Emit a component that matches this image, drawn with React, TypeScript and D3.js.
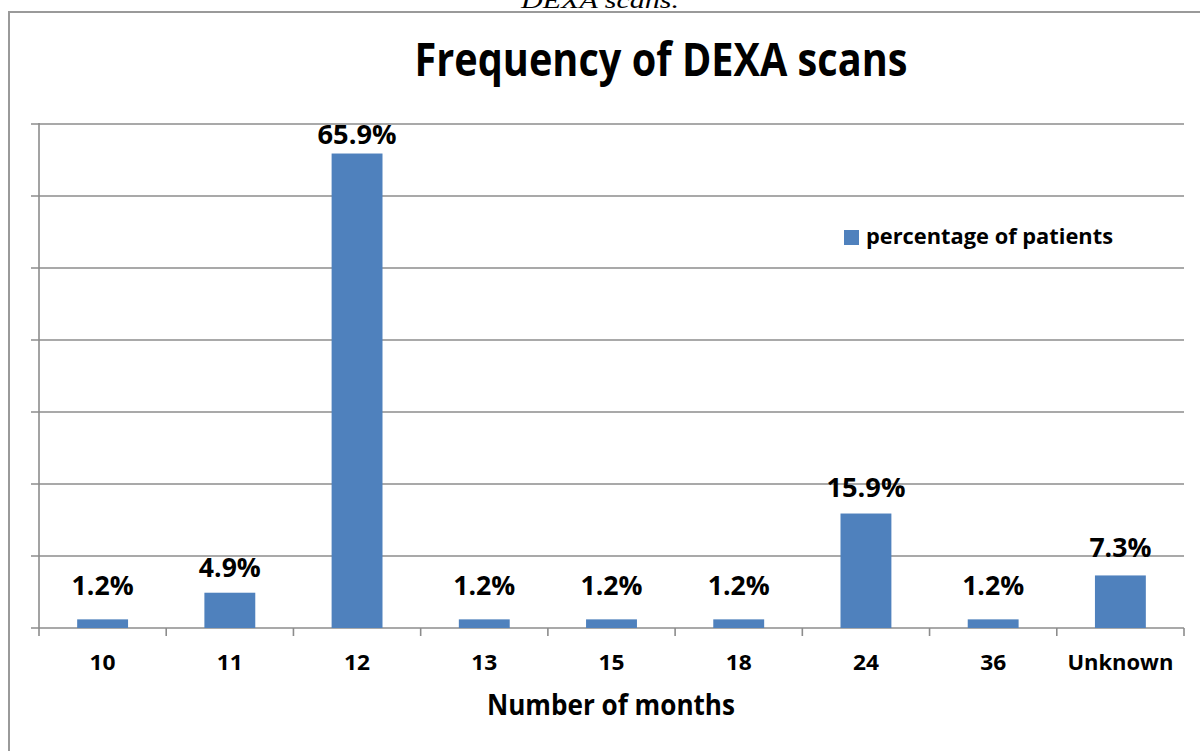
import React from "react";
import * as d3 from "d3";

const categories = ["10", "11", "12", "13", "15", "18", "24", "36", "Unknown"];
const percentages = [1.2, 4.9, 65.9, 1.2, 1.2, 1.2, 15.9, 1.2, 7.3];
const yTicks = [0, 10, 20, 30, 40, 50, 60, 70];
const seriesName = "percentage of patients";
const chartTitle = "Frequency of DEXA scans";
const xAxisTitle = "Number of months";
const captionText = "DEXA scans.";

// layout: how far each label's baseline sits above its bar top (px)
const labelLift = [24, 16, 9.5, 24, 24, 24, 16.5, 24, 18.5];

const W = 1200;
const H = 751;
const plot = { left: 39, right: 1184, top: 124, bottom: 628 };
const FONT = "'Open Sans', Lato, sans-serif";
const GRID = "#8c8c8c";
const BAR = "#4f81bd";

export default function App() {
  const x = d3
    .scaleBand<string>()
    .domain(categories)
    .range([plot.left, plot.right])
    .paddingInner(0.6)
    .paddingOuter(0.3);
  const y = d3.scaleLinear().domain([0, 70]).range([plot.bottom, plot.top]);
  const step = x.step();
  const boundaries = d3.range(categories.length + 1).map((i) => plot.left + i * step);

  return (
    <svg
      width={W}
      height={H}
      style={{ position: "absolute", left: 0, top: 0, background: "#fff" }}
    >
      <rect x={0} y={0} width={W} height={H} fill="#fff" />
      {/* caption cut off at the top, as in the reference */}
      <text
        x={600}
        y={8}
        textAnchor="middle"
        fontFamily="'Liberation Serif', 'Times New Roman', serif"
        fontStyle="italic"
        fontSize={24}
        textLength={158}
        lengthAdjust="spacingAndGlyphs"
        fill="#000"
      >
        {captionText}
      </text>
      {/* outer chart border */}
      <rect x={9} y={12} width={W + 20} height={H + 20} fill="none" stroke="#9a9a9a" strokeWidth={2} />

      {/* title */}
      <text
        x={661}
        y={76}
        textAnchor="middle"
        fontFamily={FONT}
        fontWeight="bold"
        fontSize={47}
        textLength={493}
        lengthAdjust="spacingAndGlyphs"
        fill="#000"
      >
        {chartTitle}
      </text>

      {/* gridlines */}
      {yTicks.slice(1).map((t) => (
        <line
          key={t}
          x1={plot.left - 8}
          x2={plot.right}
          y1={y(t)}
          y2={y(t)}
          stroke={GRID}
          strokeWidth={1.6}
        />
      ))}
      {/* y axis */}
      <line x1={plot.left} x2={plot.left} y1={plot.top - 1} y2={plot.bottom} stroke={GRID} strokeWidth={1.6} />
      {/* x axis */}
      <line x1={plot.left - 8} x2={plot.right} y1={plot.bottom} y2={plot.bottom} stroke={GRID} strokeWidth={1.6} />
      {boundaries.map((bx, i) => (
        <line key={i} x1={bx} x2={bx} y1={plot.bottom} y2={plot.bottom + 8} stroke={GRID} strokeWidth={1.6} />
      ))}

      {/* bars */}
      {categories.map((c, i) => (
        <rect
          key={c}
          x={x(c)}
          y={y(percentages[i])}
          width={x.bandwidth()}
          height={y(0) - y(percentages[i])}
          fill={BAR}
        />
      ))}

      {/* data labels */}
      {categories.map((c, i) => (
        <text
          key={c}
          x={(x(c) as number) + x.bandwidth() / 2}
          y={y(percentages[i]) - labelLift[i]}
          textAnchor="middle"
          fontFamily={FONT}
          fontWeight="bold"
          fontSize={27}
          textLength={percentages[i] >= 10 ? 79 : 62}
          lengthAdjust="spacingAndGlyphs"
          fill="#000"
        >
          {percentages[i].toFixed(1) + "%"}
        </text>
      ))}

      {/* category labels */}
      {categories.map((c) => (
        <text
          key={c}
          x={(x(c) as number) + x.bandwidth() / 2}
          y={670}
          textAnchor="middle"
          fontFamily={FONT}
          fontWeight="bold"
          fontSize={22}
          textLength={c.length > 2 ? 106 : 26}
          lengthAdjust="spacingAndGlyphs"
          fill="#000"
        >
          {c}
        </text>
      ))}

      {/* x axis title */}
      <text
        x={611}
        y={715}
        textAnchor="middle"
        fontFamily={FONT}
        fontWeight="bold"
        fontSize={29}
        textLength={248}
        lengthAdjust="spacingAndGlyphs"
        fill="#000"
      >
        {xAxisTitle}
      </text>

      {/* legend */}
      <rect x={844} y={230} width={15} height={15} fill={BAR} />
      <text
        x={866}
        y={244}
        fontFamily={FONT}
        fontWeight="bold"
        fontSize={22}
        textLength={247}
        lengthAdjust="spacingAndGlyphs"
        fill="#000"
      >
        {seriesName}
      </text>
    </svg>
  );
}
